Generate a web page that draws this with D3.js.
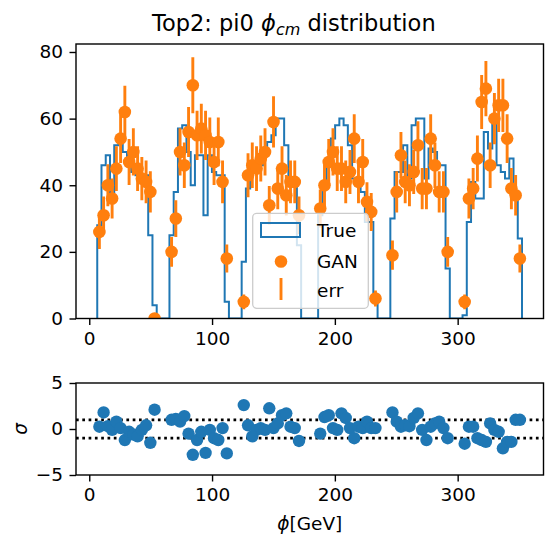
<!DOCTYPE html>
<html>
<head>
<meta charset="utf-8">
<script src="https://cdn.jsdelivr.net/npm/d3@7/dist/d3.min.js"></script>
<style>
  body { margin: 0; background: #fff; }
  text { font-family: "DejaVu Sans", sans-serif; fill: #000; }
</style>
</head>
<body>
<svg id="chart" width="546" height="540"></svg>
<script>
// Histogram binning of phi_cm (100 equal bins between the data min and max)
const binLo = 6.5;
const binHi = 352.4;
const nBins = 100;

// Reference ("True") counts per bin
const trueCounts = [
  28, 46, 49, 36, 52, 54, 50, 47, 44, 43, 43, 43, 25, 4,
  0, 0, 0,
  25, 38, 57, 58, 50, 40, 49, 49, 31, 49, 44, 43, 43, 5,
  0, 0, 0,
  17, 39, 47, 45, 46, 50, 53, 55, 60, 60, 52, 41, 41, 22,
  0, 0, 0, 0,
  31, 41, 48, 54, 58, 60, 58, 52, 42, 41, 38, 29, 29, 6,
  0, 0, 0,
  30, 44, 44, 52, 42, 58, 60, 60, 42, 51, 50, 46, 46, 15,
  0, 0, 0,
  1, 29, 41, 36, 36, 56, 51, 59, 46, 44, 42, 48, 38, 24
];

// Generated (GAN) counts per bin; null where the bin is empty in both samples
const ganCounts = [
  26, 31, 40, 36, 45, 54, 62, 47, 50, 45, 42, 41, 38, 0,
  null, null, null,
  20, 30, 50, 46, 56, 70, 55, 57, 55, 53, 47, 53, 41, 18,
  null, null, null,
  5, 43, 46, 45, 48, 50, 34, 59, 39, 45, 37, 41, 41, 31,
  null, null, null, null,
  33, 40, 47, 50, 45, 45, 41, 44, 54, 41, 47, 35, 32, 6,
  null, null, null,
  19, 38, 49, 41, 40, 44, 52, 39, 39, 54, 46, 38, 38, 20,
  null, null, null,
  5, 36, 39, 48, 65, 69, 46, 60, 64, 64, 54, 39, 37, 18
];

// Statistical uncertainty on the GAN counts
const ganErr = [
  5.1, 5.6, 6.3, 6.0, 6.7, 7.3, 7.9, 6.9, 7.1, 6.7, 6.5, 6.4, 6.2, 0,
  null, null, null,
  4.5, 5.5, 7.1, 6.8, 7.5, 8.4, 7.4, 7.5, 7.4, 7.3, 6.9, 7.3, 6.4, 4.2,
  null, null, null,
  2.2, 6.6, 6.8, 6.7, 6.9, 7.1, 5.8, 7.7, 6.2, 6.7, 6.1, 6.4, 6.4, 5.6,
  null, null, null, null,
  5.7, 6.3, 6.9, 7.1, 6.7, 6.7, 6.4, 6.6, 7.3, 6.4, 6.9, 5.9, 5.7, 2.4,
  null, null, null,
  4.4, 6.2, 7.0, 6.4, 6.3, 6.6, 7.2, 6.2, 6.2, 7.3, 6.8, 6.2, 6.2, 4.5,
  null, null, null,
  2.2, 6.0, 6.2, 6.9, 8.1, 8.3, 6.8, 7.7, 8.0, 8.0, 7.3, 6.2, 6.1, 4.2
];

// Pull (True - GAN) in units of sigma per bin
const sigmaVals = [
  0.25, 1.8, 0.3, -0.1, 0.8, 0.1, -1.2, -0.3, -0.6, -0.8, -0.1, 0.4, -1.5, 2.1,
  null, null, null,
  1.0, 1.1, 0.8, 1.4, -0.5, -2.8, -1.2, -0.3, -2.6, -0.1, -1.0, -1.2, 0.1, -2.65,
  null, null, null,
  2.6, 0.4, -0.8, -0.1, 0.1, -0.1, 2.25, 0.1, 0.6, 1.5, 1.7, 0.25, 0.1, -1.3,
  null, null, null, null,
  -0.5, 1.3, 1.5, 0.1, -0.1, 1.7, 1.2, 0.1, -1.0, 0.25, 0.1, 0.8, 0.1, 0.1,
  null, null, null,
  1.8, 0.8, 0.25, 0.4, 0.3, 1.2, 1.7, -0.1, -1.2, 0.25, 0.6, 0.8, 0.1, -1.0,
  null, null, null,
  -1.6, 0.25, 0.25, -1.0, -1.2, -1.4, 0.6, -0.1, -0.3, -2.1, -1.4, -1.4, 1.0, 1.0
];

const xTicks = [0, 100, 200, 300];
const yTicksTop = [0, 20, 40, 60, 80];
const yTicksBottom = [-5, 0, 5];
const sigmaBand = [-1, 1];

const blue = "#1f77b4";
const orange = "#ff7f0e";
const labelSize = "18.5px";

const svg = d3.select("#chart");

// Panel geometry
const left = 76, right = 543.5;
const topPanel = { top: 44, bottom: 318.5 };
const botPanel = { top: 383, bottom: 475 };

const x = d3.scaleLinear().domain([-10.8, 369.9]).range([left, right]);
const yTop = d3.scaleLinear().domain([0, 82.4]).range([topPanel.bottom, topPanel.top]);
const yBot = d3.scaleLinear().domain([-5, 5]).range([botPanel.bottom, botPanel.top]);

const binWidth = (binHi - binLo) / nBins;
const edges = d3.range(nBins + 1).map(i => binLo + i * binWidth);
const bins = d3.range(nBins).map(i => ({
  center: binLo + (i + 0.5) * binWidth,
  lo: edges[i], hi: edges[i + 1],
  truth: trueCounts[i], gan: ganCounts[i], err: ganErr[i], pull: sigmaVals[i]
}));

// Clip regions for each panel
const defs = svg.append("defs");
defs.append("clipPath").attr("id", "clipTop").append("rect")
  .attr("x", left).attr("y", topPanel.top)
  .attr("width", right - left).attr("height", topPanel.bottom - topPanel.top);
defs.append("clipPath").attr("id", "clipBot").append("rect")
  .attr("x", left).attr("y", botPanel.top)
  .attr("width", right - left).attr("height", botPanel.bottom - botPanel.top);

// ---------- Top panel ----------
const gTop = svg.append("g").attr("clip-path", "url(#clipTop)");

// Step outline of the True histogram
const stepPts = [[edges[0], 0]];
bins.forEach(b => { stepPts.push([b.lo, b.truth]); stepPts.push([b.hi, b.truth]); });
stepPts.push([edges[nBins], 0]);
gTop.append("path")
  .attr("d", d3.line().x(d => x(d[0])).y(d => yTop(d[1]))(stepPts))
  .attr("fill", "none").attr("stroke", blue).attr("stroke-width", 2)
  .attr("stroke-linejoin", "miter");

const ganBins = bins.filter(b => b.gan !== null);

// Error bars
gTop.selectAll("line.err").data(ganBins.filter(b => b.err > 0)).join("line")
  .attr("class", "err")
  .attr("x1", d => x(d.center)).attr("x2", d => x(d.center))
  .attr("y1", d => yTop(d.gan - d.err)).attr("y2", d => yTop(d.gan + d.err))
  .attr("stroke", orange).attr("stroke-width", 2.9);

// GAN points
gTop.selectAll("circle.gan").data(ganBins).join("circle")
  .attr("class", "gan")
  .attr("cx", d => x(d.center)).attr("cy", d => yTop(d.gan))
  .attr("r", 6.3).attr("fill", orange);

// Frame
svg.append("rect")
  .attr("x", left).attr("y", topPanel.top)
  .attr("width", right - left).attr("height", topPanel.bottom - topPanel.top)
  .attr("fill", "none").attr("stroke", "#000").attr("stroke-width", 1.4);

function styleAxis(g) {
  g.select(".domain").remove();
  g.selectAll(".tick line").attr("stroke", "#000").attr("stroke-width", 1.4);
  g.selectAll(".tick text").style("font-size", labelSize).attr("fill", "#000");
}

svg.append("g").attr("transform", `translate(0,${topPanel.bottom})`)
  .call(d3.axisBottom(x).tickValues(xTicks).tickSize(6.5).tickPadding(6.5).tickFormat(d3.format("d")))
  .call(styleAxis);
svg.append("g").attr("transform", `translate(${left},0)`)
  .call(d3.axisLeft(yTop).tickValues(yTicksTop).tickSize(6.5).tickPadding(6.5).tickFormat(d3.format("d")))
  .call(styleAxis);

// Title
const title = svg.append("text").attr("x", 152).attr("y", 30.5).style("font-size", "22.5px");
title.append("tspan").text("Top2: pi0 ");
title.append("tspan").attr("font-style", "italic").text("ϕ");
title.append("tspan").attr("font-style", "italic").style("font-size", "16px").attr("dy", 4).text("cm");
title.append("tspan").attr("dy", -4).text(" distribution");

// Legend
const lg = svg.append("g");
lg.append("rect")
  .attr("x", 252.7).attr("y", 213.3).attr("width", 115.6).attr("height", 95)
  .attr("rx", 4).attr("fill", "#fff").attr("fill-opacity", 0.8)
  .attr("stroke", "#cccccc").attr("stroke-width", 1.3);
lg.append("rect")
  .attr("x", 261).attr("y", 223).attr("width", 39).attr("height", 14)
  .attr("fill", "none").attr("stroke", blue).attr("stroke-width", 2);
lg.append("circle").attr("cx", 281).attr("cy", 261.5).attr("r", 6.3).attr("fill", orange);
lg.append("line").attr("x1", 281).attr("x2", 281).attr("y1", 278).attr("y2", 300)
  .attr("stroke", orange).attr("stroke-width", 2.9);
const legendItems = ["True", "GAN", "err"];
const legendY = [237, 268, 297];
lg.selectAll("text.lg").data(legendItems).join("text")
  .attr("class", "lg")
  .attr("x", 317).attr("y", (d, i) => legendY[i])
  .style("font-size", labelSize)
  .text(d => d);

// ---------- Bottom panel ----------
const gBot = svg.append("g").attr("clip-path", "url(#clipBot)");

gBot.selectAll("line.band").data(sigmaBand).join("line")
  .attr("class", "band")
  .attr("x1", left).attr("x2", right)
  .attr("y1", d => yBot(d)).attr("y2", d => yBot(d))
  .attr("stroke", "#000").attr("stroke-width", 2.7)
  .attr("stroke-dasharray", "2.7,3.6");

gBot.selectAll("circle.pull").data(bins.filter(b => b.pull !== null)).join("circle")
  .attr("class", "pull")
  .attr("cx", d => x(d.center)).attr("cy", d => yBot(d.pull))
  .attr("r", 6.2).attr("fill", blue);

svg.append("rect")
  .attr("x", left).attr("y", botPanel.top)
  .attr("width", right - left).attr("height", botPanel.bottom - botPanel.top)
  .attr("fill", "none").attr("stroke", "#000").attr("stroke-width", 1.4);

svg.append("g").attr("transform", `translate(0,${botPanel.bottom})`)
  .call(d3.axisBottom(x).tickValues(xTicks).tickSize(6.5).tickPadding(6.5).tickFormat(d3.format("d")))
  .call(styleAxis);
svg.append("g").attr("transform", `translate(${left},0)`)
  .call(d3.axisLeft(yBot).tickValues(yTicksBottom).tickSize(6.5).tickPadding(6.5).tickFormat(d3.format("d")))
  .call(styleAxis);

// Axis labels
const xl = svg.append("text").attr("x", (left + right) / 2).attr("y", 530)
  .attr("text-anchor", "middle").style("font-size", labelSize);
xl.append("tspan").attr("font-style", "italic").text("ϕ");
xl.append("tspan").text("[GeV]");

svg.append("text")
  .attr("transform", `translate(27,${(botPanel.top + botPanel.bottom) / 2}) rotate(-90)`)
  .attr("text-anchor", "middle").attr("font-style", "italic")
  .style("font-size", labelSize).text("σ");
</script>
</body>
</html>
